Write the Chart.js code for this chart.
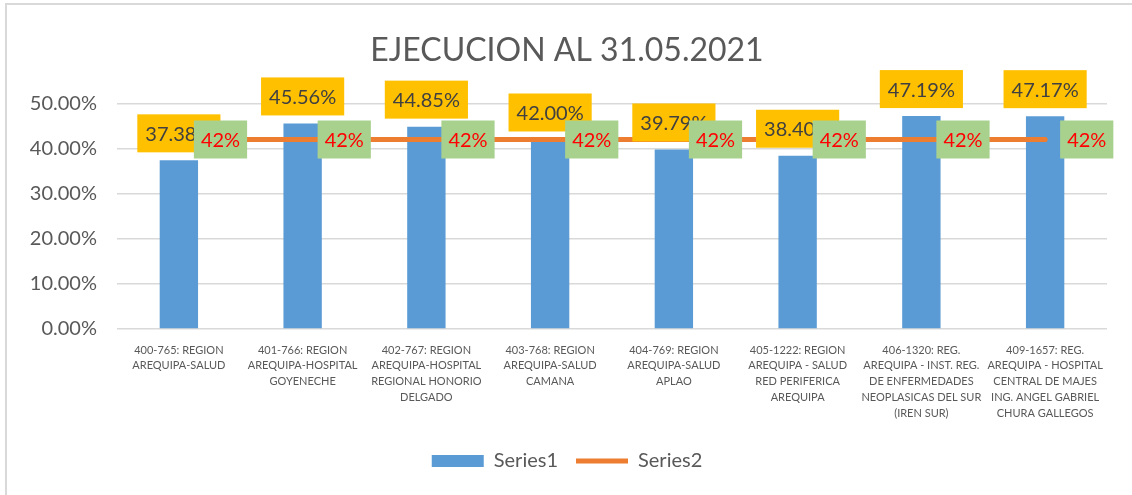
<!DOCTYPE html>
<html>
<head>
<meta charset="utf-8">
<script src="https://cdn.jsdelivr.net/npm/chart.js@4"></script>
<style>
  body { margin: 0; background: #fff; }
  #wrap { position: relative; width: 1132px; height: 495px; overflow: hidden; }
  #frame { position: absolute; left: 5px; top: 3px; width: 1140px; height: 510px;
           border: 2px solid #d9d9d9; pointer-events: none; }
  canvas { position: absolute; left: 0; top: 0; }
</style>
</head>
<body>
<div id="wrap">
  <canvas id="my-chart" width="1132" height="495"></canvas>
  <div id="frame"></div>
</div>
<script>
'use strict';

// categories (each one already split in lines like the reference)
let categories = [
  ['400-765: REGION', 'AREQUIPA-SALUD'],
  ['401-766: REGION', 'AREQUIPA-HOSPITAL', 'GOYENECHE'],
  ['402-767: REGION', 'AREQUIPA-HOSPITAL', 'REGIONAL HONORIO', 'DELGADO'],
  ['403-768: REGION', 'AREQUIPA-SALUD', 'CAMANA'],
  ['404-769: REGION', 'AREQUIPA-SALUD', 'APLAO'],
  ['405-1222: REGION', 'AREQUIPA - SALUD', 'RED PERIFERICA', 'AREQUIPA'],
  ['406-1320: REG.', 'AREQUIPA - INST. REG.', 'DE ENFERMEDADES', 'NEOPLASICAS DEL SUR', '(IREN SUR)'],
  ['409-1657: REG.', 'AREQUIPA - HOSPITAL', 'CENTRAL DE MAJES', 'ING. ANGEL GABRIEL', 'CHURA GALLEGOS']
];

// series values (percent)
let series1 = [37.38, 45.56, 44.85, 42.00, 39.79, 38.40, 47.19, 47.17];
let series2 = [42, 42, 42, 42, 42, 42, 42, 42];

// y ticks
let yMin = 0;
let yMax = 50;
let yStep = 10;

let fontName = 'Lato, "Open Sans", sans-serif';

// data labels: yellow boxes over the bars, green boxes right of the line points
let labelPlugin = {
  id: 'boxLabels',
  afterDatasetsDraw(chart) {
    let ctx = chart.ctx;
    ctx.save();
    ctx.font = '20px ' + fontName;
    ctx.textAlign = 'center';
    ctx.textBaseline = 'middle';

    let barMeta = chart.getDatasetMeta(0);
    for (let i = 0; i < barMeta.data.length; i++) {
      let bar = barMeta.data[i];
      let txt = series1[i].toFixed(2) + '%';
      let w = ctx.measureText(txt).width + 16;
      let h = 38;
      let bottom = bar.y - 8;
      ctx.fillStyle = '#FFC000';
      ctx.fillRect(bar.x - w / 2, bottom - h, w, h);
      ctx.fillStyle = '#404040';
      ctx.fillText(txt, bar.x, bottom - h / 2 + 1);
    }

    let lineMeta = chart.getDatasetMeta(1);
    for (let i = 0; i < lineMeta.data.length; i++) {
      let pt = lineMeta.data[i];
      let txt = series2[i] + '%';
      let w = ctx.measureText(txt).width + 14;
      let h = 38;
      let left = pt.x + 15;
      ctx.fillStyle = '#A9D18E';
      ctx.fillRect(left, pt.y - h / 2, w, h);
      ctx.fillStyle = '#FF0000';
      ctx.fillText(txt, left + w / 2, pt.y + 1);
    }
    ctx.restore();
  }
};

const ctx = document.getElementById('my-chart').getContext('2d');

new Chart(ctx, {
  type: 'bar',
  data: {
    labels: categories,
    datasets: [{
      label: 'Series1',
      data: series1,
      backgroundColor: '#5B9BD5',
      categoryPercentage: 1,
      barPercentage: 0.31,
      pointStyle: 'rect',
      order: 2
    },
    {
      label: 'Series2',
      type: 'line',
      data: series2,
      borderColor: '#ED7D31',
      backgroundColor: '#ED7D31',
      borderWidth: 5,
      borderCapStyle: 'round',
      pointRadius: 0,
      pointStyle: 'line',
      order: 1
    }]
  },
  options: {
    responsive: false,
    animation: false,
    layout: { padding: { left: 27, right: 25, top: 0, bottom: 14 } },
    plugins: {
      tooltip: { enabled: false },
      title: {
        display: true,
        text: 'EJECUCION AL 31.05.2021',
        color: '#595959',
        font: { family: fontName, size: 32, weight: 'normal' },
        padding: { top: 31, bottom: 34 }
      },
      legend: {
        position: 'bottom',
        labels: {
          color: '#595959',
          font: { family: fontName, size: 20 },
          usePointStyle: true,
          pointStyleWidth: 52,
          boxHeight: 12,
          padding: 18,
          sort: (a, b) => a.datasetIndex - b.datasetIndex
        }
      }
    },
    scales: {
      x: {
        grid: { display: false },
        border: { display: false },
        ticks: {
          color: '#595959',
          font: { family: fontName, size: 11, lineHeight: 1.45 },
          maxRotation: 0,
          autoSkip: false,
          padding: 5
        },
        afterFit(scale) { scale.height = 104; }
      },
      y: {
        min: yMin,
        max: yMax,
        grid: { color: '#d9d9d9', lineWidth: 1.5, drawTicks: false },
        border: { display: false },
        ticks: {
          stepSize: yStep,
          color: '#595959',
          font: { family: fontName, size: 20 },
          padding: 20,
          callback: (v) => v.toFixed(2) + '%'
        },
        afterFit(scale) { scale.width = 90; }
      }
    }
  },
  plugins: [labelPlugin]
});
</script>
</body>
</html>
